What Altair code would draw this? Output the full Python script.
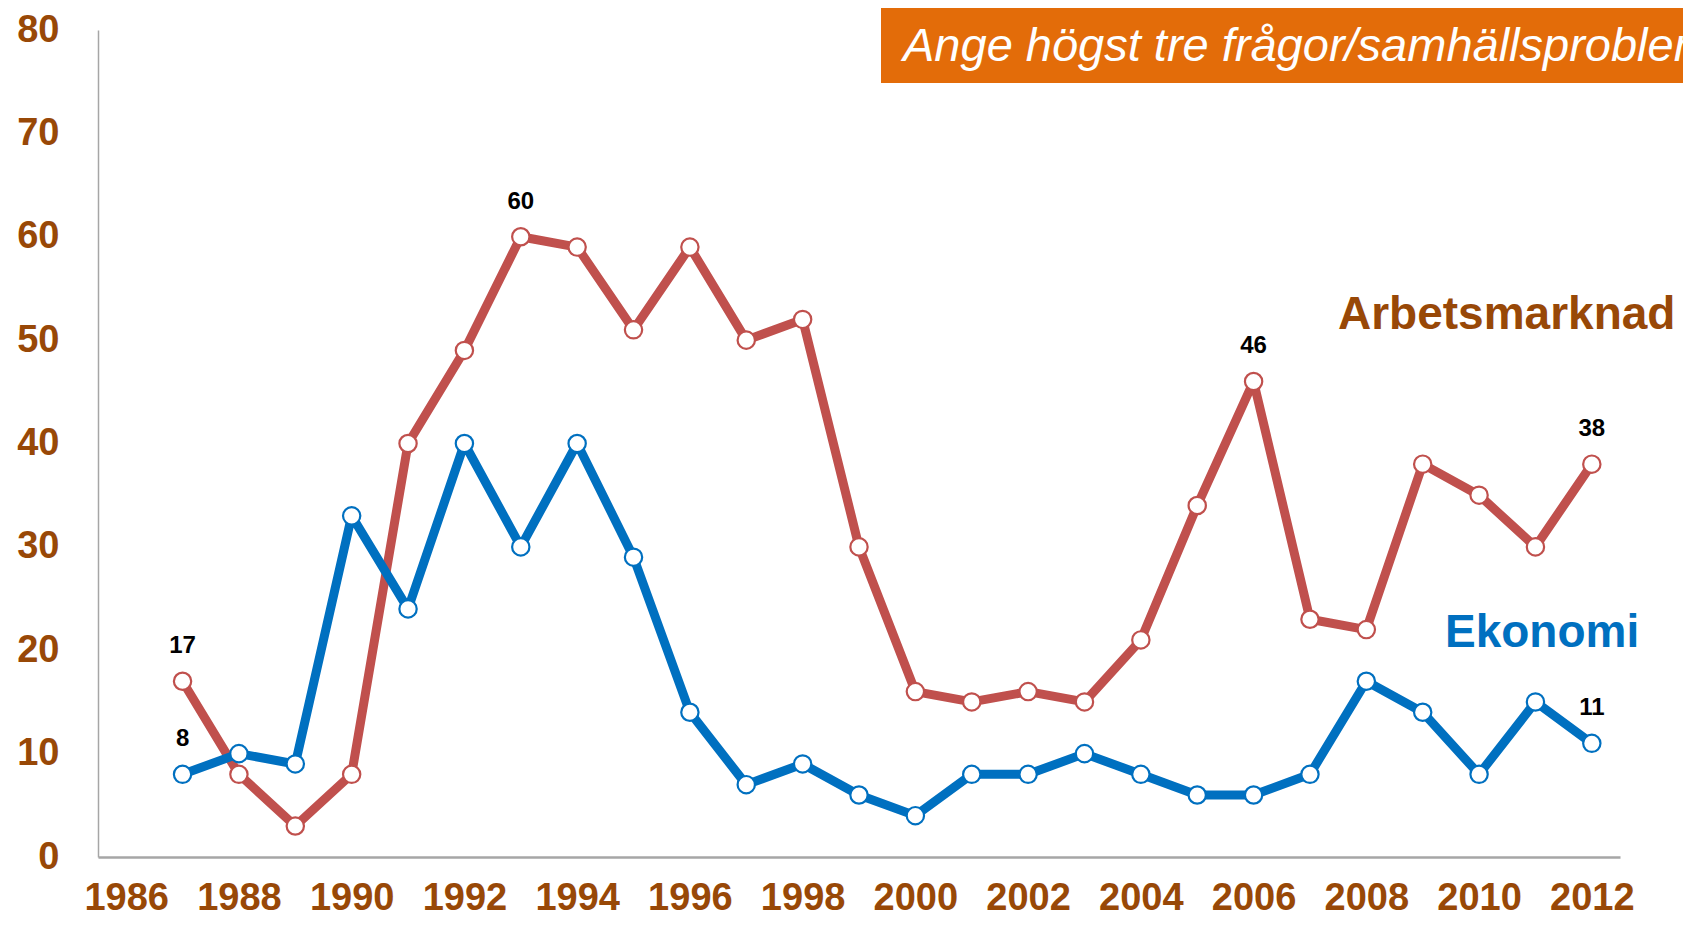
import altair as alt
import pandas as pd

# ---- data ----
years = list(range(1987, 2013))
arbetsmarknad = [17, 8, 3, 8, 40, 49, 60, 59, 51, 59, 50, 52, 30, 16, 15, 16, 15, 21, 34, 46, 23, 22, 38, 35, 30, 38]
ekonomi = [8, 10, 9, 33, 24, 40, 30, 40, 29, 14, 7, 9, 6, 4, 8, 8, 10, 8, 6, 6, 8, 17, 14, 8, 15, 11]
series_names = ["Arbetsmarknad", "Ekonomi"]
arbets_label_years = [1987, 1993, 2006, 2012]
ekonomi_label_years = [1987, 2012]
x_tick_values = list(range(1986, 2013, 2))
y_tick_values = list(range(0, 81, 10))
title_text = "Ange högst tre frågor/samhällsproblem"

RED = "#C0504D"
BLUE = "#0070C0"
BROWN = "#984807"
ORANGE = "#E36C09"
GRAY = "#A6A6A6"
FONT = "Liberation Sans"

rows = []
for y, v in zip(years, arbetsmarknad):
    rows.append({"year": y, "value": v, "series": series_names[0],
                 "lab": y in arbets_label_years})
for y, v in zip(years, ekonomi):
    rows.append({"year": y, "value": v, "series": series_names[1],
                 "lab": y in ekonomi_label_years})
df = pd.DataFrame(rows)

W, H = 1522, 827

x_enc = alt.X("year:Q",
              scale=alt.Scale(domain=[1985.5, 2012.5], nice=False, zero=False),
              axis=alt.Axis(values=x_tick_values, format="d", title=None, grid=False,
                            ticks=False, tickSize=0, labelPadding=22,
                            labelFont=FONT, labelFontSize=38, labelFontWeight="bold",
                            labelColor=BROWN, labelFlush=False, labelOverlap=False,
                            domainColor=GRAY, domainWidth=2.5))
y_enc = alt.Y("value:Q",
              scale=alt.Scale(domain=[0, 80], nice=False),
              axis=alt.Axis(values=y_tick_values, title=None, grid=False,
                            ticks=False, tickSize=0, labelPadding=39,
                            labelFont=FONT, labelFontSize=38, labelFontWeight="bold",
                            labelColor=BROWN, domainColor=GRAY, domainWidth=1.5))
color_enc = alt.Color("series:N",
                      scale=alt.Scale(domain=series_names, range=[RED, BLUE]),
                      legend=None)

base = alt.Chart(df)

lines = base.mark_line(strokeWidth=9, strokeJoin="round").encode(
    x=x_enc, y=y_enc, color=color_enc, detail="series:N"
)
points = base.mark_point(filled=True, fill="white", size=300, strokeWidth=2.2, opacity=1).encode(
    x="year:Q", y="value:Q",
    stroke=alt.Stroke("series:N", scale=alt.Scale(domain=series_names, range=[RED, BLUE]), legend=None)
)
point_labels = base.transform_filter(alt.datum.lab).mark_text(
    font=FONT, fontSize=24, fontWeight="bold", color="black", dy=-28, baseline="alphabetic"
).encode(x="year:Q", y="value:Q", text=alt.Text("value:Q", format="d"))

# title box
box = alt.Chart(pd.DataFrame({"t": [title_text]})).mark_rect(color=ORANGE).encode(
    x=alt.value(783), x2=alt.value(1600), y=alt.value(-22), y2=alt.value(53)
)
box_text = alt.Chart(pd.DataFrame({"t": [title_text]})).mark_text(
    font=FONT, fontSize=47, fontStyle="italic", color="white", align="left", baseline="alphabetic"
).encode(x=alt.value(805), y=alt.value(31), text="t:N")

series_text = alt.Chart(pd.DataFrame({"t": series_names, "c": [BROWN, BLUE],
                                      "px": [1240, 1347], "py": [299, 617]})).mark_text(
    font=FONT, fontSize=46, fontWeight="bold", align="left", baseline="alphabetic"
).encode(x=alt.X("px:Q", scale=None), y=alt.Y("py:Q", scale=None), text="t:N",
         color=alt.Color("c:N", scale=None))

chart = alt.layer(lines, points, point_labels, box, box_text, series_text).properties(
    width=W, height=H,
    autosize=alt.AutoSizeParams(type="none"),
    padding={"left": 90, "top": 22, "right": 63, "bottom": 60},
).configure(background="white", view=alt.ViewConfig(stroke=None))

chart.save("out.html", embed_options={"renderer": "svg", "actions": False})
